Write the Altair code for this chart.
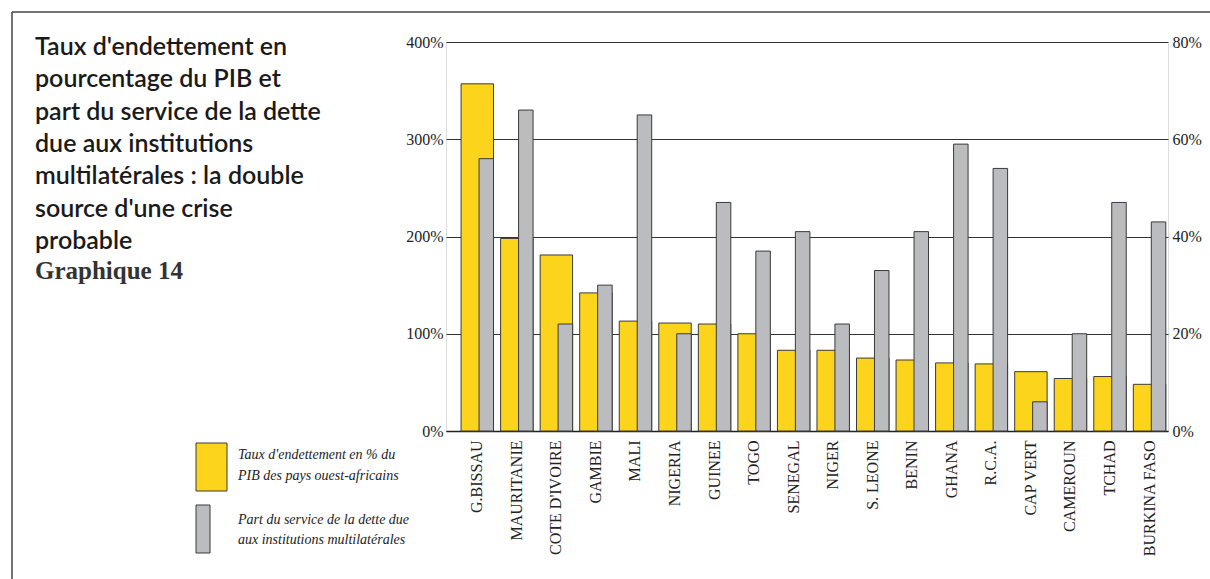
import altair as alt
import pandas as pd

countries = ["G.BISSAU", "MAURITANIE", "COTE D'IVOIRE", "GAMBIE", "MALI", "NIGERIA",
             "GUINEE", "TOGO", "SENEGAL", "NIGER", "S. LEONE", "BENIN", "GHANA",
             "R.C.A.", "CAP VERT", "CAMEROUN", "TCHAD", "BURKINA FASO"]
taux = [357, 198, 181, 142, 113, 111, 110, 100, 83, 83, 75, 73, 70, 69, 61, 54, 56, 48]
part = [56, 66, 22, 30, 65, 20, 47, 37, 41, 22, 33, 41, 59, 54, 6, 20, 47, 43]

left_ticks = [0, 100, 200, 300, 400]
right_ticks = [0, 20, 40, 60, 80]

title_lines = ["Taux d'endettement en", "pourcentage du PIB et", "part du service de la dette",
               "due aux institutions", "multilatérales : la double", "source d'une crise", "probable"]
subtitle = "Graphique 14"
legend_1 = ["Taux d'endettement en % du", "PIB des pays ouest-africains"]
legend_2 = ["Part du service de la dette due", "aux institutions multilatérales"]

YELLOW = "#FDD41C"
GRAY = "#BBBCC0"
EDGE = "#3a3a3a"
SERIF = "Liberation Serif"

df = pd.DataFrame({"pays": countries, "taux": taux, "part": part})

W, H = 722, 389
OX, OY = 446, 42

xenc = alt.X("pays:N", sort=countries, title=None,
             scale=alt.Scale(paddingInner=0.18, paddingOuter=0.219, align=0.87),
             axis=alt.Axis(labelAngle=270, labelFont=SERIF, labelFontSize=16, labelColor="#222",
                           labelPadding=9, ticks=False, domain=True, domainColor="#222",
                           domainWidth=1.5, grid=False, labelOverlap=False))

yellow = alt.Chart(df).mark_bar(color=YELLOW, stroke=EDGE, strokeWidth=1).encode(
    x=xenc,
    y=alt.Y("taux:Q", title=None, scale=alt.Scale(domain=[0, 400], nice=False),
            axis=alt.Axis(values=left_ticks, labelExpr="datum.value + '%'", labelFont=SERIF,
                          labelFontSize=16, labelColor="#222", ticks=False, domain=False,
                          labelPadding=3, grid=True, gridColor="#333", gridWidth=1.2)),
)

gray = alt.Chart(df).mark_bar(color=GRAY, stroke=EDGE, strokeWidth=1, width=14.5, xOffset=9).encode(
    x=alt.X("pays:N", sort=countries),
    y=alt.Y("part:Q", title=None, scale=alt.Scale(domain=[0, 80], nice=False),
            axis=alt.Axis(orient="right", values=right_ticks, labelExpr="datum.value + '%'",
                          labelFont=SERIF, labelFontSize=16, labelColor="#222", ticks=False,
                          domain=False, labelPadding=4, grid=False)),
)

deco_df = pd.DataFrame({"k": [0]})

frame_top = alt.Chart(deco_df).mark_rule(color="#444", strokeWidth=1.5).encode(
    x=alt.value(12 - OX), x2=alt.value(1210 - OX), y=alt.value(12 - OY))
frame_left = alt.Chart(deco_df).mark_rule(color="#444", strokeWidth=1.5).encode(
    x=alt.value(12 - OX), y=alt.value(12 - OY), y2=alt.value(579 - OY))

title = alt.Chart(deco_df).mark_text(align="left", baseline="alphabetic", font="Lato",
                                     fontWeight=600, fontSize=25, lineHeight=32.3,
                                     color="#1a1a1a").encode(
    x=alt.value(35 - OX), y=alt.value(55 - OY), text=alt.value(title_lines))
sub = alt.Chart(deco_df).mark_text(align="left", baseline="alphabetic", font=SERIF,
                                   fontWeight="bold", fontSize=25, color="#333").encode(
    x=alt.value(35 - OX), y=alt.value(279 - OY), text=alt.value(subtitle))

sw1 = alt.Chart(deco_df).mark_rect(color=YELLOW, stroke=EDGE, strokeWidth=1).encode(
    x=alt.value(196 - OX), x2=alt.value(227 - OX), y=alt.value(443 - OY), y2=alt.value(491 - OY))
sw2 = alt.Chart(deco_df).mark_rect(color=GRAY, stroke=EDGE, strokeWidth=1).encode(
    x=alt.value(196 - OX), x2=alt.value(210 - OX), y=alt.value(505 - OY), y2=alt.value(553 - OY))
lt1 = alt.Chart(deco_df).mark_text(align="left", baseline="alphabetic", font=SERIF,
                                   fontStyle="italic", fontSize=14, lineHeight=21,
                                   color="#222").encode(
    x=alt.value(238 - OX), y=alt.value(459 - OY), text=alt.value(legend_1))
lt2 = alt.Chart(deco_df).mark_text(align="left", baseline="alphabetic", font=SERIF,
                                   fontStyle="italic", fontSize=14, lineHeight=20,
                                   color="#222").encode(
    x=alt.value(238 - OX), y=alt.value(524 - OY), text=alt.value(legend_2))

chart = alt.layer(yellow, gray, frame_top, frame_left, title, sub, sw1, sw2, lt1, lt2).resolve_scale(
    y="independent"
).properties(
    width=W, height=H,
    autosize=alt.AutoSizeParams(type="none"),
    padding={"left": OX, "top": OY, "right": 1210 - OX - W, "bottom": 579 - OY - H},
).configure_view(stroke=None).configure(background="white")

chart.save("out.html", embed_options={"renderer": "svg", "actions": False})
